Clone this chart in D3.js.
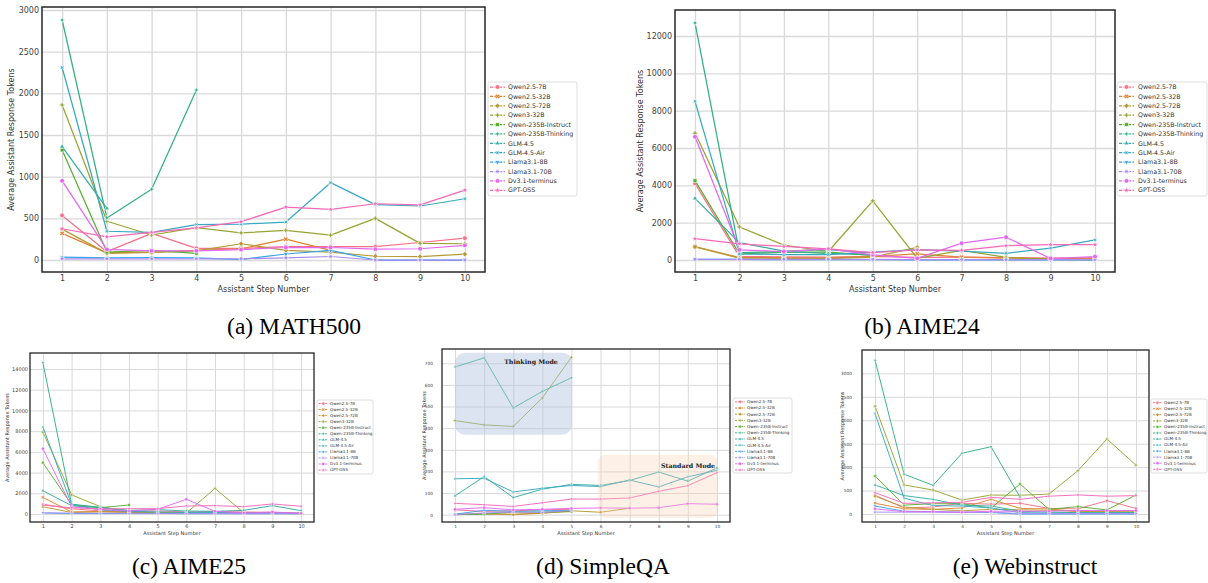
<!DOCTYPE html>
<html><head><meta charset="utf-8">
<script src="https://cdn.jsdelivr.net/npm/d3@7"></script>
<style>body{margin:0;background:#fff;} svg{display:block;}</style>
</head><body><svg id="fig" width="1208" height="583"></svg>
<script>
// ---------------- DATA ----------------
const models = ["Qwen2.5-7B","Qwen2.5-32B","Qwen2.5-72B","Qwen3-32B","Qwen-235B-Instruct","Qwen-235B-Thinking","GLM-4.5","GLM-4.5-Air","Llama3.1-8B","Llama3.1-70B","Dv3.1-terminus","GPT-OSS"];
const colors = ["#f77189","#e08432","#b69a31","#97a431","#5aae31","#33b083","#36ada4","#38a9c0","#3ba2e6","#a48cf4","#e368f0","#f668b8"];
const steps = [1,2,3,4,5,6,7,8,9,10];
const _ = null;

// (a) MATH500 — one row per model, one value per assistant step
const math500 = [
  [535, 100, 320, 140, 140, 160, 160, 160, 210, 262],
  [320, 85, 95, 115, 135, 250, 115, _, _, _],
  [370, 80, 90, 110, 195, 115, 95, 45, 40, 70],
  [1860, 465, 300, 388, 325, 355, 298, 500, 200, 195],
  [1320, 95, 115, 80, _, _, _, _, _, _],
  [2880, 505, 850, 2040, _, _, _, _, _, _],
  [1360, 620, _, _, _, _, _, _, _, _],
  [2310, 345, 332, 425, 430, 455, 928, 665, 648, 735],
  [35, 25, 30, 25, 5, 72, 115, 0, 0, 0],
  [15, 15, 15, 15, 15, 25, 42, 0, 0, 0],
  [950, 128, 110, 110, 125, 150, 150, 130, 135, 175],
  [375, 278, 332, 385, 460, 635, 607, 675, 662, 838]
];
// (b) AIME24
const aime24 = [
  [4100, 180, 170, 160, 200, 140, 150, 130, 100, 120],
  [720, 130, 120, 110, 200, 330, 150, 100, 80, 100],
  [700, 100, 90, 80, 150, 680, _, _, _, _],
  [6800, 1770, 800, 455, 3170, 90, 520, 140, 40, 0],
  [4250, 320, 420, 420, 250, _, _, _, _, _],
  [12700, 400, 450, 350, 280, _, _, _, _, _],
  [3300, 930, 480, 560, 380, _, _, _, _, _],
  [8500, 330, 290, 290, 420, 560, 480, 360, 640, 1080],
  [30, 30, 20, 20, 20, 10, 10, 10, 10, 10],
  [40, 40, 40, 40, 30, 20, 20, 20, 20, 20],
  [6600, 545, 455, 590, 280, 90, 900, 1220, 80, 185],
  [1140, 870, 725, 600, 400, 545, 520, 765, 818, 820]
];
// (c) AIME25
const aime25 = [
  [950, 500, 300, 250, 300, 200, 250, 200, 150, 100],
  [1600, 200, 250, 200, 150, 100, _, _, _, _],
  [700, 150, 200, 150, 100, 80, 100, 80, 60, 50],
  [7900, 1850, 710, 230, 120, 100, 2470, 130, 50, 30],
  [4950, 900, 600, 870, _, _, _, _, _, _],
  [14600, 950, 650, 300, _, _, _, _, _, _],
  [2250, 800, 620, 350, 420, 290, 258, 355, 806, 322],
  [8400, 900, 400, 250, 200, 150, 150, 100, 100, 80],
  [100, 50, 50, 50, 50, 30, 30, 30, 30, 30],
  [120, 80, 70, 60, 60, 50, 50, 40, 40, 40],
  [6300, 700, 450, 300, 450, 1420, 258, 97, 194, 65],
  [850, 600, 500, 516, 516, 774, 806, 710, 968, 742]
];
// (d) SimpleQA
const simpleqa = [
  [22, 15, 18, 22, 25, _, _, _, _, _],
  [2, 5, 2, 8, 15, _, _, _, _, _],
  [0, 3, 0, 6, 18, 11, 30, _, _, _],
  [435, 415, 408, 540, 728, _, _, _, _, _],
  [0, 2, 12, 12, 14, _, _, _, _, _],
  [683, 725, 493, 570, 633, _, _, _, _, _],
  [87, 176, 79, 118, 140, 135, 158, 197, 155, 216],
  [166, 168, 105, 122, 135, 130, 160, 128, 175, 205],
  [2, 20, 15, 18, 20, _, _, _, _, _],
  [0, 8, 12, 10, 20, _, _, _, _, _],
  [25, 32, 22, 25, 29, 31, 30, 32, 51, 48],
  [52, 46, 38, 55, 72, 72, 77, 108, 134, 194]
];
// (e) Webinstruct
const webinstruct = [
  [400, 130, 150, 230, 210, 230, 120, 110, 285, 120],
  [230, 110, 100, 130, 315, 120, 110, 50, 50, 40],
  [380, 150, 100, 70, 100, 90, 80, 60, 60, 60],
  [2300, 620, 512, 298, 405, 400, 425, 925, 1600, 1042],
  [810, 190, 220, 220, 125, 640, 100, 158, 88, 405],
  [3280, 850, 612, 1295, 1435, 360, _, _, _, _],
  [620, 393, 312, 190, 170, 60, 40, 30, 30, 30],
  [2140, 340, 180, 170, 130, 30, 20, 20, 20, 20],
  [170, 60, 50, 40, 30, 0, 0, 0, 0, 0],
  [40, 40, 40, 30, 40, 10, 10, 10, 10, 10],
  [110, 50, 50, 40, 60, 60, 60, 75, 75, 75],
  [455, 228, 240, 250, 355, 314, 380, 407, 380, 392]
];

const ticksA = [0, 500, 1000, 1500, 2000, 2500, 3000];
const ticksB = [0, 2000, 4000, 6000, 8000, 10000, 12000];
const ticksC = [0, 2000, 4000, 6000, 8000, 10000, 12000, 14000];
const ticksD = [0, 100, 200, 300, 400, 500, 600, 700];
const ticksE = [0, 500, 1000, 1500, 2000, 2500, 3000];
const captions = ["(a) MATH500", "(b) AIME24", "(c) AIME25", "(d) SimpleQA", "(e) Webinstruct"];
const yLabel = "Average Assistant Response Tokens";
const xLabel = "Assistant Step Number";
const modeLabels = ["Thinking Mode", "Standard Mode"];
// mode regions in data units: [x0, x1, y0, y1]
const thinkingRegion = [1.0, 5.02, 370, 749];
const standardRegion = [5.91, 10.04, -14, 277];

// ---------------- LAYOUT ----------------
const layout = [
  {data: math500, ticks: ticksA, L: 42, R: 485, T: 7, B: 272, yd: [-144, 3036], big: true, tfs: 8,
   leg: {x: 488, y: 82, w: 89, h: 114, r0: 87, dr: 9.39, l0: 490, l1: 505, tx: 508, fs: 6.3},
   cap: [294, 334], ylx: 14, xly: 292, pad: 3, xpad: 3},
  {data: aime24, ticks: ticksB, L: 675, R: 1115, T: 10, B: 272, yd: [-643, 13393], big: true, tfs: 8,
   leg: {x: 1117, y: 82, w: 90, h: 114, r0: 87, dr: 9.39, l0: 1119, l1: 1134, tx: 1138, fs: 6.3},
   cap: [922, 334], ylx: 643, xly: 292, pad: 3, xpad: 3},
  {data: aime25, ticks: ticksC, L: 30, R: 314, T: 353, B: 522, yd: [-772, 15545], big: false, tfs: 5,
   leg: {x: 317, y: 400, w: 56, h: 74, r0: 403.5, dr: 6.05, l0: 318.5, l1: 328, tx: 330, fs: 4.1},
   cap: [189, 574], ylx: 9, xly: 535, pad: 2, xpad: 2},
  {data: simpleqa, ticks: ticksD, L: 442, R: 730, T: 349, B: 522, yd: [-34, 766], big: false, tfs: 4.3,
   leg: {x: 733, y: 398, w: 59, h: 75, r0: 401.8, dr: 6.2, l0: 735, l1: 745, tx: 747, fs: 4.1},
   cap: [603, 574], ylx: 426, xly: 535, pad: 9, xpad: 2.5, modes: true},
  {data: webinstruct, ticks: ticksE, L: 862, R: 1149, T: 350, B: 522, yd: [-170, 3497], big: false, tfs: 4.3,
   leg: {x: 1151, y: 399, w: 56, h: 74, r0: 402.7, dr: 6.05, l0: 1153, l1: 1162, tx: 1164, fs: 4.1},
   cap: [1025, 574], ylx: 844, xly: 535, pad: 10, xpad: 2.5}
];

// ---------------- MARKERS ----------------
function polyPath(n, r, rotDeg) {
  const pts = [];
  for (let i = 0; i < n; i++) {
    const a = (rotDeg + i * 360 / n) * Math.PI / 180;
    pts.push([r * Math.sin(a), -r * Math.cos(a)]);
  }
  return "M" + pts.map(p => p.join(",")).join("L") + "Z";
}
function starPath(n, r, rotDeg, inner) {
  const pts = [];
  for (let i = 0; i < 2 * n; i++) {
    const rr = i % 2 === 0 ? r : r * inner;
    const a = (rotDeg + i * 180 / n) * Math.PI / 180;
    pts.push([rr * Math.sin(a), -rr * Math.cos(a)]);
  }
  return "M" + pts.map(p => p.join(",")).join("L") + "Z";
}
function crossPath(r, rotDeg) {
  const w = r * 0.36;
  const base = [[-w,-r],[w,-r],[w,-w],[r,-w],[r,w],[w,w],[w,r],[-w,r],[-w,w],[-r,w],[-r,-w],[-w,-w]];
  const a = rotDeg * Math.PI / 180, c = Math.cos(a), s = Math.sin(a);
  return "M" + base.map(([x, y]) => [x * c - y * s, x * s + y * c].join(",")).join("L") + "Z";
}
function markerPath(i, r) {
  switch (i) {
    case 0: return d3.symbol(d3.symbolCircle, Math.PI * r * r)();
    case 1: return crossPath(r * 1.1, 45);
    case 2: return polyPath(4, r * 1.15, 0);
    case 3: return crossPath(r * 1.05, 0);
    case 4: return polyPath(4, r * 1.2, 45);
    case 5: return starPath(4, r * 1.3, 0, 0.4);
    case 6: return polyPath(3, r * 1.25, 0);
    case 7: return starPath(4, r * 1.3, 45, 0.4);
    case 8: return polyPath(3, r * 1.25, 180);
    case 9: return starPath(6, r * 1.25, 30, 0.5);
    case 10: return polyPath(6, r * 1.1, 30);
    default: return starPath(5, r * 1.3, 0, 0.45);
  }
}

// ---------------- DRAW ----------------
const svg = d3.select("#fig");
svg.append("rect").attr("width", 1208).attr("height", 583).attr("fill", "#fff");

layout.forEach((p, pi) => {
  const g = svg.append("g");
  const x = d3.scaleLinear().domain([0.55, 10.45]).range([p.L, p.R]);
  const y = d3.scaleLinear().domain(p.yd).range([p.B, p.T]);
  const tickFs = p.tfs;
  const labFs = p.big ? 8 : 5;
  const lw = p.big ? 1.25 : 0.95;
  const mr = p.big ? 2.3 : 1.5;
  const gridW = p.big ? 1.3 : 1.0;

  // grid + tick labels via d3 axes
  const gx = g.append("g").attr("transform", `translate(0,${p.B})`)
    .call(d3.axisBottom(x).tickValues(steps).tickFormat(d3.format("d"))
      .tickSize(-(p.B - p.T)).tickPadding(p.xpad));
  const gy = g.append("g").attr("transform", `translate(${p.L},0)`)
    .call(d3.axisLeft(y).tickValues(p.ticks).tickFormat(d3.format("d"))
      .tickSize(-(p.R - p.L)).tickPadding(p.pad));
  [gx, gy].forEach(ax => {
    ax.select(".domain").remove();
    ax.selectAll(".tick line").attr("stroke", "#d9d9d9").attr("stroke-width", gridW);
    ax.selectAll(".tick text").attr("fill", "#444").attr("font-family", "DejaVu Sans")
      .attr("font-size", tickFs);
  });

  // series
  const line = d3.line().defined(d => d.v !== null).x(d => x(d.s)).y(d => y(d.v));
  p.data.forEach((vals, mi) => {
    const pts = steps.map((s, k) => ({s: s, v: vals[k] === undefined ? null : vals[k]}));
    g.append("path").datum(pts).attr("d", line).attr("fill", "none")
      .attr("stroke", colors[mi]).attr("stroke-width", lw).attr("stroke-linejoin", "round");
    g.selectAll(null).data(pts.filter(d => d.v !== null)).join("path")
      .attr("d", markerPath(mi, mr))
      .attr("transform", d => `translate(${x(d.s)},${y(d.v)})`)
      .attr("fill", colors[mi]).attr("stroke", "#fff").attr("stroke-width", p.big ? 0.6 : 0.4);
  });

  // mode regions (SimpleQA)
  if (p.modes) {
    const tr = thinkingRegion, sr = standardRegion;
    g.append("rect").attr("x", x(tr[0])).attr("y", y(tr[3]))
      .attr("width", x(tr[1]) - x(tr[0])).attr("height", y(tr[2]) - y(tr[3]))
      .attr("rx", 10).attr("fill", "rgb(176,196,222)").attr("fill-opacity", 0.45);
    g.append("rect").attr("x", x(sr[0])).attr("y", y(sr[3]))
      .attr("width", x(sr[1]) - x(sr[0])).attr("height", y(sr[2]) - y(sr[3]))
      .attr("rx", 8).attr("fill", "rgb(245,205,175)").attr("fill-opacity", 0.3);
    g.append("text").attr("x", 531).attr("y", 363.5).attr("text-anchor", "middle")
      .attr("font-family", "DejaVu Serif").attr("font-weight", "bold").attr("font-size", 6.3)
      .attr("fill", "#222").text(modeLabels[0]);
    g.append("text").attr("x", 688).attr("y", 467.5).attr("text-anchor", "middle")
      .attr("font-family", "DejaVu Serif").attr("font-weight", "bold").attr("font-size", 6.3)
      .attr("fill", "#222").text(modeLabels[1]);
  }

  // frame
  g.append("rect").attr("x", p.L).attr("y", p.T).attr("width", p.R - p.L).attr("height", p.B - p.T)
    .attr("fill", "none").attr("stroke", "#262626").attr("stroke-width", p.big ? 1.5 : 1.3);

  // axis labels
  g.append("text").attr("transform", `translate(${p.ylx},${(p.T + p.B) / 2}) rotate(-90)`)
    .attr("text-anchor", "middle").attr("font-family", "DejaVu Sans").attr("font-size", labFs)
    .attr("fill", "#333").text(yLabel);
  g.append("text").attr("x", (p.L + p.R) / 2).attr("y", p.xly).attr("text-anchor", "middle")
    .attr("font-family", "DejaVu Sans").attr("font-size", labFs).attr("fill", "#333").text(xLabel);

  // legend
  const lg = p.leg;
  g.append("rect").attr("x", lg.x).attr("y", lg.y).attr("width", lg.w).attr("height", lg.h)
    .attr("rx", 2).attr("fill", "#fff").attr("fill-opacity", 0.85)
    .attr("stroke", "#d6d6d6").attr("stroke-width", 0.8);
  models.forEach((m, mi) => {
    const cy = lg.r0 + mi * lg.dr;
    g.append("line").attr("x1", lg.l0).attr("x2", lg.l1).attr("y1", cy).attr("y2", cy)
      .attr("stroke", colors[mi]).attr("stroke-width", lw)
      .attr("stroke-dasharray", p.big ? "3.2,1.3" : "2.2,0.9");
    g.append("path").attr("d", markerPath(mi, mr))
      .attr("transform", `translate(${(lg.l0 + lg.l1) / 2},${cy})`)
      .attr("fill", colors[mi]).attr("stroke", "#fff").attr("stroke-width", p.big ? 0.6 : 0.4);
    g.append("text").attr("x", lg.tx).attr("y", cy).attr("dy", "0.35em")
      .attr("font-family", "DejaVu Sans").attr("font-size", lg.fs).attr("fill", "#333").text(m);
  });

  // caption
  svg.append("text").attr("x", p.cap[0]).attr("y", p.cap[1]).attr("text-anchor", "middle")
    .attr("font-family", "Liberation Serif").attr("font-size", 23.5).attr("fill", "#000")
    .text(captions[pi]);
});
</script>
</body></html>
